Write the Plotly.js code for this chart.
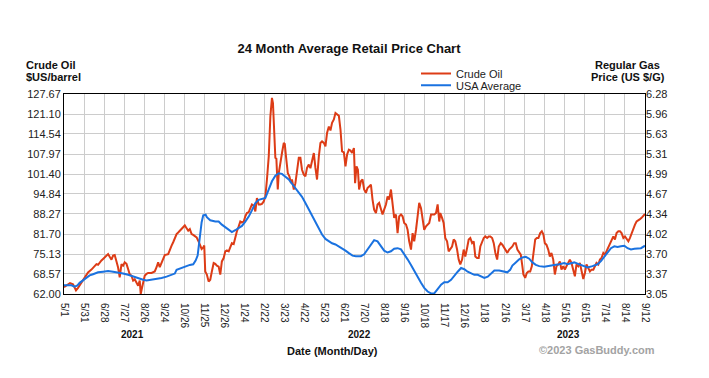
<!DOCTYPE html>
<html>
<head>
<meta charset="utf-8">
<script src="https://cdn.plot.ly/plotly-3.0.1.min.js"></script>
<style>
  html, body { margin: 0; padding: 0; background: #ffffff; }
  #chart { width: 709px; height: 378px; }
</style>
</head>
<body>
<div id="chart"></div>
<script>
// x position = index of the (evenly spaced) date tick interval
const dateLabels = ["5/1","5/31","6/28","7/27","8/26","9/24","10/26","11/25","12/26","1/24",
  "2/22","3/23","4/22","5/23","6/21","7/20","8/18","9/16","10/18","11/17",
  "12/16","1/18","2/16","3/17","4/18","5/16","6/15","7/14","8/14","9/12"];

const crudeTicks = [62.00, 68.57, 75.13, 81.70, 88.27, 94.84, 101.40, 107.97, 114.54, 121.10, 127.67];
const gasTicks = [3.05, 3.37, 3.70, 4.02, 4.34, 4.67, 4.99, 5.31, 5.63, 5.96, 6.28];

const years = ["2021", "2022", "2023"];

// Crude oil, $US/barrel : [tick-interval position, price]
const crudeOil = [
[0.00,64.2],[0.15,65.0],[0.30,65.6],[0.45,65.2],[0.60,63.2],[0.70,64.0],[0.87,65.6],[1.03,67.5],
[1.20,69.1],[1.37,70.0],[1.53,71.3],[1.62,71.8],[1.70,71.6],[1.78,72.4],[1.87,73.0],[1.95,73.5],
[2.03,74.0],[2.12,74.5],[2.20,75.1],[2.28,74.2],[2.37,73.3],[2.45,74.6],[2.53,74.8],[2.62,72.7],
[2.70,70.7],[2.78,67.5],[2.87,71.8],[2.95,71.3],[3.03,72.4],[3.12,71.9],[3.20,70.2],[3.28,68.5],
[3.37,68.0],[3.45,66.4],[3.53,66.8],[3.62,65.8],[3.70,64.7],[3.78,66.4],[3.83,62.0],[3.90,64.2],
[4.03,68.0],[4.12,68.6],[4.20,68.9],[4.37,68.9],[4.53,69.4],[4.62,70.8],[4.70,72.4],[4.78,70.8],
[4.87,72.4],[4.95,73.5],[5.03,74.8],[5.20,75.1],[5.28,76.8],[5.37,77.9],[5.45,79.0],[5.53,80.6],
[5.62,81.7],[5.70,82.2],[5.78,82.8],[5.87,83.3],[5.95,84.2],[6.03,84.5],[6.12,83.6],[6.20,82.8],
[6.28,83.3],[6.37,81.7],[6.45,81.4],[6.53,81.0],[6.62,80.6],[6.70,79.5],[6.78,77.9],[6.87,76.8],
[6.95,77.3],[7.00,77.9],[7.05,69.4],[7.13,68.4],[7.22,66.1],[7.30,66.7],[7.38,69.4],[7.47,72.2],
[7.55,71.9],[7.63,71.3],[7.72,71.0],[7.80,68.4],[7.88,72.7],[7.97,73.8],[8.05,76.0],[8.13,76.3],
[8.22,76.0],[8.30,77.6],[8.38,78.7],[8.47,78.4],[8.55,80.9],[8.63,82.6],[8.72,84.2],[8.80,85.8],
[8.88,85.5],[8.97,85.8],[9.05,87.5],[9.13,88.6],[9.22,88.9],[9.30,90.3],[9.38,91.4],[9.47,91.0],
[9.55,89.1],[9.63,93.5],[9.72,91.4],[9.80,91.4],[9.88,91.6],[9.97,92.4],[10.05,94.0],[10.13,99.6],
[10.22,107.2],[10.30,120.3],[10.38,126.4],[10.43,124.7],[10.50,116.0],[10.55,106.7],[10.60,106.4],[10.67,96.3],
[10.72,101.7],[10.80,105.5],[10.88,108.3],[10.97,111.6],[11.02,111.3],[11.08,107.2],[11.17,101.7],[11.25,100.6],
[11.33,98.4],[11.38,99.6],[11.47,96.3],[11.55,98.4],[11.63,102.3],[11.72,106.7],[11.80,106.7],[11.88,102.8],
[11.97,101.2],[12.05,100.6],[12.13,103.4],[12.22,104.5],[12.30,103.3],[12.38,105.5],[12.47,108.3],[12.55,103.4],
[12.63,99.6],[12.72,107.2],[12.80,111.6],[12.88,112.1],[12.97,111.6],[13.05,110.5],[13.13,114.9],[13.22,117.0],
[13.30,115.7],[13.38,118.2],[13.47,119.3],[13.55,121.4],[13.63,121.0],[13.72,120.5],[13.80,116.0],[13.88,108.8],
[13.97,108.5],[14.05,103.9],[14.13,107.8],[14.22,109.4],[14.30,109.1],[14.38,108.3],[14.47,109.9],[14.53,98.4],
[14.60,103.9],[14.67,102.8],[14.73,96.3],[14.82,99.0],[14.90,99.6],[14.98,96.3],[15.07,95.2],[15.15,96.8],
[15.23,97.3],[15.32,97.9],[15.40,93.0],[15.48,89.7],[15.57,88.6],[15.65,91.4],[15.73,91.9],[15.82,90.2],
[15.90,88.1],[15.98,89.7],[16.07,91.4],[16.15,94.0],[16.23,93.0],[16.32,96.3],[16.40,91.9],[16.48,87.0],
[16.57,88.1],[16.65,82.0],[16.73,87.5],[16.82,88.1],[16.90,87.5],[16.98,85.3],[17.07,84.8],[17.15,83.1],
[17.23,79.3],[17.32,76.6],[17.40,82.0],[17.48,79.3],[17.57,83.1],[17.65,87.0],[17.73,91.9],[17.82,90.2],
[17.90,87.0],[17.98,83.1],[18.07,84.2],[18.15,84.8],[18.23,85.3],[18.32,88.1],[18.40,88.1],[18.48,88.1],
[18.57,88.6],[18.65,91.4],[18.73,85.8],[18.78,88.6],[18.87,87.0],[18.95,85.3],[19.03,80.4],[19.12,79.3],
[19.20,76.0],[19.28,76.6],[19.37,77.6],[19.45,79.9],[19.53,79.3],[19.62,76.6],[19.70,73.3],[19.78,71.7],
[19.87,73.3],[19.95,76.6],[20.03,74.3],[20.12,77.1],[20.20,79.9],[20.28,80.4],[20.37,78.7],[20.45,79.3],
[20.53,74.3],[20.62,73.8],[20.70,73.8],[20.78,77.6],[20.87,79.3],[20.95,80.4],[21.03,80.9],[21.12,80.4],
[21.20,80.9],[21.28,80.9],[21.37,80.4],[21.45,78.7],[21.53,75.5],[21.62,73.3],[21.70,77.6],[21.80,78.7],
[21.88,78.2],[21.97,77.1],[22.05,76.0],[22.13,75.5],[22.22,76.6],[22.30,77.1],[22.38,77.6],[22.47,78.7],
[22.55,78.7],[22.63,76.6],[22.72,75.5],[22.80,74.9],[22.88,71.1],[22.93,68.4],[23.02,67.3],[23.10,68.9],
[23.18,69.4],[23.27,69.4],[23.35,71.1],[23.43,74.9],[23.52,79.9],[23.60,80.4],[23.68,80.4],[23.77,82.0],
[23.85,82.6],[23.93,81.5],[24.00,78.7],[24.08,78.2],[24.17,76.6],[24.25,74.3],[24.33,75.5],[24.42,73.3],
[24.50,68.4],[24.58,71.1],[24.67,71.7],[24.75,72.7],[24.83,70.0],[24.92,71.1],[25.00,70.0],[25.08,71.1],
[25.17,72.2],[25.25,73.3],[25.33,72.2],[25.42,70.0],[25.50,67.8],[25.58,71.7],[25.67,71.1],[25.75,72.2],
[25.83,69.4],[25.92,66.9],[26.00,68.9],[26.08,71.7],[26.17,70.5],[26.25,69.4],[26.33,70.0],[26.42,70.0],
[26.50,71.1],[26.58,72.2],[26.67,71.7],[26.75,73.3],[26.83,73.8],[26.92,75.5],[27.00,74.9],[27.08,76.0],
[27.17,77.6],[27.25,78.7],[27.33,79.3],[27.42,80.9],[27.50,79.9],[27.58,82.0],[27.67,82.6],[27.75,82.6],
[27.83,82.0],[27.92,80.4],[28.00,80.9],[28.08,79.9],[28.17,79.3],[28.25,80.4],[28.33,82.0],[28.42,83.7],
[28.50,84.8],[28.58,85.8],[28.67,86.4],[28.75,86.6],[28.83,87.0],[28.92,87.7],[29.00,88.3]
];

// USA average regular gas, US $/gal : [tick-interval position, price]
const usaAverage = [
[0.00,3.19],[0.20,3.19],[0.37,3.19],[0.53,3.17],[0.67,3.19],[0.78,3.23],[0.95,3.27],[1.12,3.30],
[1.28,3.35],[1.45,3.37],[1.70,3.40],[1.95,3.41],[2.20,3.42],[2.45,3.41],[2.70,3.40],[2.95,3.38],
[3.20,3.36],[3.45,3.33],[3.70,3.31],[3.95,3.28],[4.12,3.27],[4.37,3.28],[4.62,3.30],[4.87,3.31],
[5.12,3.33],[5.37,3.36],[5.53,3.38],[5.62,3.44],[5.78,3.46],[5.95,3.47],[6.12,3.50],[6.28,3.52],
[6.45,3.53],[6.57,3.59],[6.67,3.67],[6.73,3.83],[6.80,4.04],[6.87,4.21],[6.95,4.32],[7.07,4.33],
[7.13,4.29],[7.30,4.24],[7.55,4.22],[7.72,4.22],[7.88,4.17],[8.05,4.13],[8.22,4.08],[8.38,4.05],
[8.55,4.08],[8.72,4.11],[8.88,4.15],[9.05,4.22],[9.22,4.30],[9.38,4.40],[9.55,4.52],[9.72,4.57],
[9.88,4.58],[10.05,4.60],[10.22,4.74],[10.38,4.87],[10.55,4.96],[10.72,5.00],[10.88,4.99],[11.05,4.95],
[11.22,4.90],[11.38,4.83],[11.55,4.76],[11.72,4.69],[11.88,4.62],[12.05,4.52],[12.22,4.42],[12.38,4.32],
[12.55,4.21],[12.72,4.12],[12.88,4.01],[13.05,3.94],[13.22,3.90],[13.38,3.87],[13.55,3.85],[13.72,3.82],
[13.88,3.79],[14.05,3.75],[14.22,3.71],[14.40,3.67],[14.57,3.66],[14.82,3.66],[14.98,3.69],[15.15,3.77],
[15.32,3.86],[15.48,3.92],[15.65,3.90],[15.82,3.82],[15.98,3.75],[16.15,3.72],[16.32,3.74],[16.48,3.78],
[16.65,3.79],[16.82,3.77],[16.98,3.70],[17.15,3.61],[17.32,3.52],[17.48,3.42],[17.65,3.32],[17.82,3.23],
[17.98,3.15],[18.15,3.09],[18.32,3.06],[18.48,3.06],[18.65,3.13],[18.82,3.20],[18.98,3.24],[19.15,3.24],
[19.32,3.28],[19.48,3.35],[19.65,3.41],[19.82,3.47],[19.98,3.45],[20.15,3.41],[20.32,3.38],[20.48,3.36],
[20.65,3.36],[20.82,3.33],[20.98,3.31],[21.15,3.33],[21.32,3.39],[21.48,3.43],[21.72,3.43],[21.97,3.41],
[22.13,3.40],[22.27,3.44],[22.38,3.51],[22.55,3.56],[22.72,3.61],[22.88,3.64],[23.05,3.65],[23.22,3.62],
[23.38,3.56],[23.55,3.52],[23.72,3.50],[23.97,3.49],[24.22,3.51],[24.47,3.52],[24.72,3.53],[24.97,3.55],
[25.13,3.53],[25.30,3.55],[25.47,3.56],[25.63,3.54],[25.80,3.52],[25.97,3.50],[26.13,3.48],[26.38,3.50],
[26.63,3.53],[26.80,3.58],[26.97,3.65],[27.13,3.72],[27.30,3.79],[27.47,3.82],[27.63,3.81],[27.80,3.82],
[27.97,3.83],[28.13,3.79],[28.30,3.77],[28.47,3.78],[28.63,3.78],[28.80,3.79],[29.00,3.83]
];

const FONT = "Liberation Sans, Arial, Helvetica, sans-serif";
const PX0 = 64, PW = 581, PY0 = 294, PH = 200;
const px = v => (v - PX0) / PW;
const py = v => (PY0 - v) / PH;

const traces = [
  {
    x: crudeOil.map(p => p[0]), y: crudeOil.map(p => p[1]),
    type: "scatter", mode: "lines", name: "Crude Oil", yaxis: "y",
    line: { color: "#dd3c16", width: 2 }, legend: "legend"
  },
  {
    x: usaAverage.map(p => p[0]), y: usaAverage.map(p => p[1]),
    type: "scatter", mode: "lines", name: "USA Average", yaxis: "y2",
    line: { color: "#1a72e0", width: 2 }, legend: "legend2"
  }
];

const tickFont = { family: FONT, size: 11, color: "#222" };
const ann = (text, x, y, opts) => Object.assign({
  text, x, y, xref: "paper", yref: "paper", showarrow: false,
  xanchor: "center", yanchor: "middle",
  font: { family: FONT, size: 11, color: "#111", weight: 700 }
}, opts || {});

const layout = {
  width: 709, height: 378,
  margin: { l: 64, r: 64, t: 94, b: 84 },
  paper_bgcolor: "#ffffff", plot_bgcolor: "#ffffff",
  font: { family: FONT, size: 11, color: "#222" },
  title: {
    text: "24 Month Average Retail Price Chart",
    x: 349 / 709, xref: "container", xanchor: "center",
    y: 1 - 48 / 378, yref: "container", yanchor: "middle",
    font: { family: FONT, size: 13, color: "#111", weight: 700 }
  },
  xaxis: {
    range: [0, dateLabels.length - 1],
    tickmode: "array",
    tickvals: dateLabels.map((_, i) => i),
    ticktext: dateLabels,
    tickangle: 90,
    ticklabelstandoff: 6,
    tickfont: { family: FONT, size: 10, color: "#222" },
    ticks: "", showgrid: true, gridcolor: "#cccccc", gridwidth: 1,
    showline: true, linecolor: "#000", linewidth: 1, mirror: true,
    zeroline: false, automargin: false, fixedrange: true
  },
  yaxis: {
    range: [crudeTicks[0], crudeTicks[crudeTicks.length - 1]],
    tickmode: "array", tickvals: crudeTicks, tickformat: ".2f",
    tickfont: tickFont, ticks: "",
    showgrid: true, gridcolor: "#cccccc", gridwidth: 1,
    showline: true, linecolor: "#000", linewidth: 1, mirror: true,
    zeroline: false, automargin: false, fixedrange: true
  },
  yaxis2: {
    overlaying: "y", side: "right",
    range: [gasTicks[0], gasTicks[gasTicks.length - 1]],
    tickmode: "array", tickvals: gasTicks, tickformat: ".2f",
    tickfont: tickFont, ticks: "",
    showgrid: false, showline: false, zeroline: false,
    automargin: false, fixedrange: true
  },
  legend: {
    x: px(416), xanchor: "left", y: py(73.5), yanchor: "middle",
    bgcolor: "rgba(0,0,0,0)", borderwidth: 0,
    font: { family: FONT, size: 11, color: "#222" }
  },
  legend2: {
    x: px(416), xanchor: "left", y: py(85.3), yanchor: "middle",
    bgcolor: "rgba(0,0,0,0)", borderwidth: 0,
    font: { family: FONT, size: 11, color: "#222" }
  },
  showlegend: true,
  annotations: [
    ann("Crude Oil", px(24), py(65), { xanchor: "left" }),
    ann("$US/barrel", px(24), py(77), { xanchor: "left" }),
    ann("Regular Gas", px(627.5), py(65)),
    ann("Price (US $/G)", px(628), py(77)),
    ann(years[0], px(132), py(334), { font: { family: FONT, size: 10, color: "#111", weight: 700 } }),
    ann(years[1], px(359), py(334), { font: { family: FONT, size: 10, color: "#111", weight: 700 } }),
    ann(years[2], px(568), py(334), { font: { family: FONT, size: 10, color: "#111", weight: 700 } }),
    ann("Date (Month/Day)", px(332), py(350.7)),
    ann("©2023 GasBuddy.com", px(597), py(350), { font: { family: FONT, size: 11, color: "#a3a3a3", weight: 700 } })
  ]
};

Plotly.newPlot("chart", traces, layout, { displayModeBar: false, staticPlot: true });
</script>
</body>
</html>
